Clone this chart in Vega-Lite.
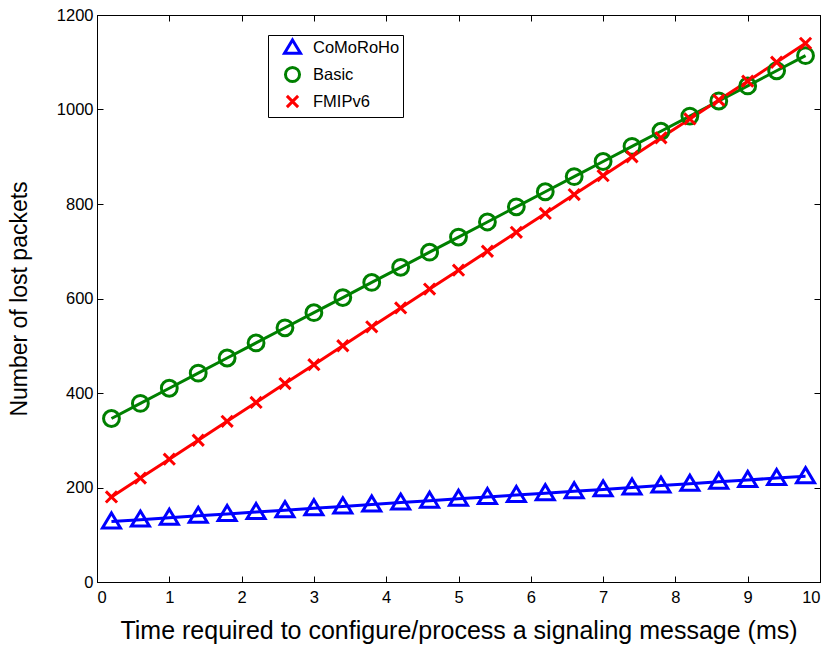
{
  "$schema": "https://vega.github.io/schema/vega-lite/v6.json",
  "width": 723,
  "height": 567,
  "autosize": "none",
  "padding": {"left": 97, "top": 15, "right": 11, "bottom": 65},
  "background": "white",
  "config": {
    "view": {"stroke": "black", "strokeWidth": 1},
    "font": "Liberation Sans",
    "axis": {"grid": false, "domainColor": "black", "tickColor": "black", "labelColor": "black", "titleColor": "black", "labelFont": "Liberation Sans", "titleFont": "Liberation Sans", "labelFontSize": 16.5, "titleFontWeight": "normal", "tickSize": -6, "domainWidth": 1, "tickWidth": 1}
  },
  "data": {"values": [
    {"t":0.2,"s":"CoMoRoHo","v":128},{"t":0.6,"s":"CoMoRoHo","v":132},{"t":1.0,"s":"CoMoRoHo","v":136},{"t":1.4,"s":"CoMoRoHo","v":140},{"t":1.8,"s":"CoMoRoHo","v":144},
    {"t":2.2,"s":"CoMoRoHo","v":148},{"t":2.6,"s":"CoMoRoHo","v":152},{"t":3.0,"s":"CoMoRoHo","v":156},{"t":3.4,"s":"CoMoRoHo","v":160},{"t":3.8,"s":"CoMoRoHo","v":164},
    {"t":4.2,"s":"CoMoRoHo","v":168},{"t":4.6,"s":"CoMoRoHo","v":172},{"t":5.0,"s":"CoMoRoHo","v":176},{"t":5.4,"s":"CoMoRoHo","v":180},{"t":5.8,"s":"CoMoRoHo","v":184},
    {"t":6.2,"s":"CoMoRoHo","v":188},{"t":6.6,"s":"CoMoRoHo","v":192},{"t":7.0,"s":"CoMoRoHo","v":196},{"t":7.4,"s":"CoMoRoHo","v":200},{"t":7.8,"s":"CoMoRoHo","v":204},
    {"t":8.2,"s":"CoMoRoHo","v":208},{"t":8.6,"s":"CoMoRoHo","v":212},{"t":9.0,"s":"CoMoRoHo","v":216},{"t":9.4,"s":"CoMoRoHo","v":220},{"t":9.8,"s":"CoMoRoHo","v":224},
    {"t":0.2,"s":"Basic","v":346},{"t":0.6,"s":"Basic","v":378},{"t":1.0,"s":"Basic","v":410},{"t":1.4,"s":"Basic","v":442},{"t":1.8,"s":"Basic","v":474},
    {"t":2.2,"s":"Basic","v":506},{"t":2.6,"s":"Basic","v":538},{"t":3.0,"s":"Basic","v":570},{"t":3.4,"s":"Basic","v":602},{"t":3.8,"s":"Basic","v":634},
    {"t":4.2,"s":"Basic","v":666},{"t":4.6,"s":"Basic","v":698},{"t":5.0,"s":"Basic","v":730},{"t":5.4,"s":"Basic","v":762},{"t":5.8,"s":"Basic","v":794},
    {"t":6.2,"s":"Basic","v":826},{"t":6.6,"s":"Basic","v":858},{"t":7.0,"s":"Basic","v":890},{"t":7.4,"s":"Basic","v":922},{"t":7.8,"s":"Basic","v":954},
    {"t":8.2,"s":"Basic","v":986},{"t":8.6,"s":"Basic","v":1018},{"t":9.0,"s":"Basic","v":1050},{"t":9.4,"s":"Basic","v":1082},{"t":9.8,"s":"Basic","v":1114},
    {"t":0.2,"s":"FMIPv6","v":180},{"t":0.6,"s":"FMIPv6","v":220},{"t":1.0,"s":"FMIPv6","v":260},{"t":1.4,"s":"FMIPv6","v":300},{"t":1.8,"s":"FMIPv6","v":340},
    {"t":2.2,"s":"FMIPv6","v":380},{"t":2.6,"s":"FMIPv6","v":420},{"t":3.0,"s":"FMIPv6","v":460},{"t":3.4,"s":"FMIPv6","v":500},{"t":3.8,"s":"FMIPv6","v":540},
    {"t":4.2,"s":"FMIPv6","v":580},{"t":4.6,"s":"FMIPv6","v":620},{"t":5.0,"s":"FMIPv6","v":660},{"t":5.4,"s":"FMIPv6","v":700},{"t":5.8,"s":"FMIPv6","v":740},
    {"t":6.2,"s":"FMIPv6","v":780},{"t":6.6,"s":"FMIPv6","v":820},{"t":7.0,"s":"FMIPv6","v":860},{"t":7.4,"s":"FMIPv6","v":900},{"t":7.8,"s":"FMIPv6","v":940},
    {"t":8.2,"s":"FMIPv6","v":980},{"t":8.6,"s":"FMIPv6","v":1020},{"t":9.0,"s":"FMIPv6","v":1060},{"t":9.4,"s":"FMIPv6","v":1100},{"t":9.8,"s":"FMIPv6","v":1140}
  ]},
  "layer": [
    {
      "mark": {"type": "line", "strokeWidth": 3, "clip": true},
      "encoding": {
        "x": {"field": "t", "type": "quantitative", "scale": {"domain": [0, 10], "nice": false}, "axis": {"orient": "bottom", "values": [0,1,2,3,4,5,6,7,8,9,10], "format": "d", "title": "Time required to configure/process a signaling message (ms)", "titleFontSize": 25, "labelPadding": 13, "titlePadding": 13}},
        "y": {"field": "v", "type": "quantitative", "scale": {"domain": [0, 1200], "nice": false}, "axis": {"orient": "left", "values": [0,200,400,600,800,1000,1200], "format": "d", "title": "Number of lost packets", "titleFontSize": 23, "labelPadding": 10, "titlePadding": 25}},
        "color": {"field": "s", "type": "nominal", "scale": {"domain": ["CoMoRoHo", "Basic", "FMIPv6"], "range": ["#0000ff", "#008000", "#ff0000"]}, "legend": {
          "title": null, "orient": "none", "legendX": 171, "legendY": 20,
          "strokeColor": "black", "fillColor": "white", "padding": 3,
          "labelFontSize": 16.5, "labelFont": "Liberation Sans", "labelColor": "black",
          "symbolSize": 256, "symbolStrokeWidth": 3, "rowPadding": 1, "labelOffset": 11, "symbolOffset": 12,
          "encode": {"symbols": {"update": {
            "fill": {"value": "transparent"},
            "size": {"value": 256},
            "shape": {"signal": "datum.value === 'CoMoRoHo' ? 'M0,-0.95L1,0.72L-1,0.72Z' : (datum.value === 'Basic' ? 'M0.88,0A0.88,0.88 0 1,1 -0.88,0A0.88,0.88 0 1,1 0.88,0Z' : 'M-0.7,-0.7L0.7,0.7M-0.7,0.7L0.7,-0.7')"}
          }}}
        }},
        "order": {"field": "t", "type": "quantitative"}
      }
    },
    {
      "transform": [{"filter": "datum.s === 'CoMoRoHo'"}],
      "mark": {"type": "point", "filled": false, "strokeWidth": 3, "size": 324, "opacity": 1, "clip": true, "shape": "M0,-0.95L1,0.72L-1,0.72Z"},
      "encoding": {
        "x": {"field": "t", "type": "quantitative", "axis": {"orient": "top", "values": [0,1,2,3,4,5,6,7,8,9,10], "labels": false, "title": null}},
        "y": {"field": "v", "type": "quantitative", "axis": {"orient": "right", "values": [0,200,400,600,800,1000,1200], "labels": false, "title": null}},
        "color": {"field": "s", "type": "nominal"}
      }
    },
    {
      "transform": [{"filter": "datum.s === 'Basic'"}],
      "mark": {"type": "point", "filled": false, "strokeWidth": 3, "size": 324, "opacity": 1, "clip": true, "shape": "M0.88,0A0.88,0.88 0 1,1 -0.88,0A0.88,0.88 0 1,1 0.88,0Z"},
      "encoding": {
        "x": {"field": "t", "type": "quantitative", "axis": null},
        "y": {"field": "v", "type": "quantitative", "axis": null},
        "color": {"field": "s", "type": "nominal"}
      }
    },
    {
      "transform": [{"filter": "datum.s === 'FMIPv6'"}],
      "mark": {"type": "point", "filled": false, "strokeWidth": 3, "size": 324, "opacity": 1, "clip": true, "shape": "M-0.62,-0.62L0.62,0.62M-0.62,0.62L0.62,-0.62"},
      "encoding": {
        "x": {"field": "t", "type": "quantitative", "axis": null},
        "y": {"field": "v", "type": "quantitative", "axis": null},
        "color": {"field": "s", "type": "nominal"}
      }
    }
  ],
  "resolve": {"axis": {"x": "independent", "y": "independent"}}
}
